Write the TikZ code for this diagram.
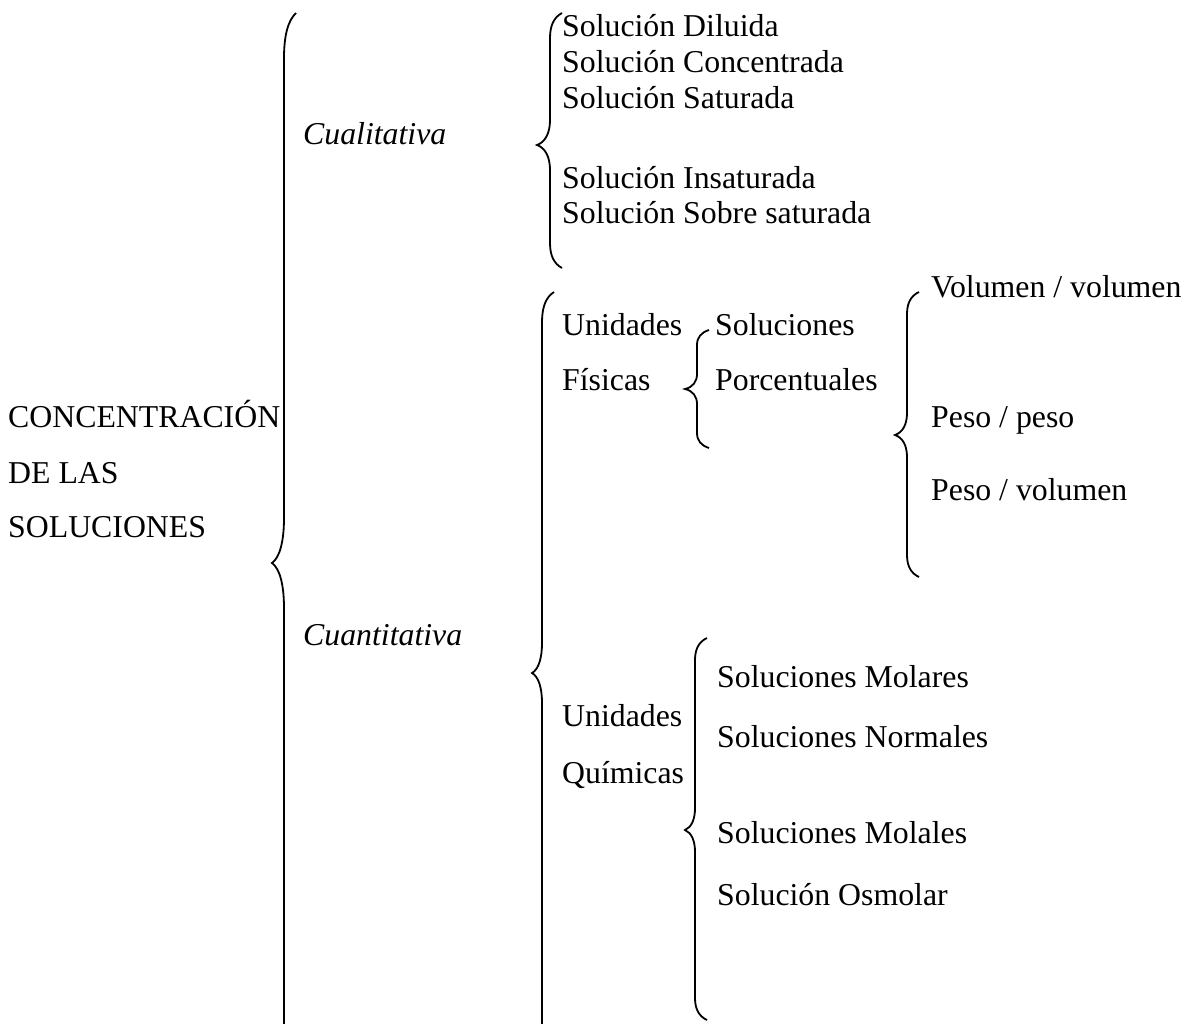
\documentclass[tikz,border=0pt]{standalone}
\usepackage{fontspec}
\setmainfont{Liberation Serif}
% #1 x of line, #2 top y, #3 tip y, #4 bottom y, #5 tip depth, #6 end curve length, #7 tip curve length
\newcommand{\WBrace}[7]{%
  \draw[wbrace] (#1+12,#2) .. controls (#1+4,#2+#6/6) and (#1,#2+#6/2) .. (#1,#2+#6)
    -- (#1,#3-#7) .. controls (#1,#3-#7/2) and (#1-#5/3,#3-#7/8) .. (#1-#5,#3)
    .. controls (#1-#5/3,#3+#7/8) and (#1,#3+#7/2) .. (#1,#3+#7)
    -- (#1,#4-#6) .. controls (#1,#4-#6/2) and (#1+4,#4-#6/6) .. (#1+12,#4);}
\begin{document}
\begin{tikzpicture}[x=1pt,y=-1pt,
  wbrace/.style={line width=1.8pt,black},
  txt/.style={anchor=base west,inner sep=0pt,font=\fontsize{31.8}{36}\selectfont},
  itxt/.style={txt,font=\fontsize{31.8}{36}\selectfont\itshape}]
\clip (0,0) rectangle (1197,1023);
\fill[white] (0,0) rectangle (1197,1023);
% root
\node[txt] (c1) at (8,427) {CONCENTRACIÓN};
\node[txt] (c2) at (8,483) {DE LAS};
\node[txt] (c3) at (8,537) {SOLUCIONES};
\WBrace{284}{13}{563}{1100}{12}{45}{45}
% level 1
\node[itxt] (cual) at (303,144) {Cualitativa};
\node[itxt] (cuan) at (303,645) {Cuantitativa};
% cualitativa
\WBrace{550}{13}{145}{268}{13}{25}{25}
\node[txt] (q1) at (562,36) {Solución Diluida};
\node[txt] (q2) at (562,72) {Solución Concentrada};
\node[txt] (q3) at (562,108) {Solución Saturada};
\node[txt] (q4) at (562,188) {Solución Insaturada};
\node[txt] (q5) at (562,223) {Solución Sobre saturada};
% cuantitativa
\WBrace{542}{292}{673}{1100}{10}{30}{30}
\node[txt] (uf1) at (562,335) {Unidades};
\node[txt] (uf2) at (562,390) {Físicas};
\WBrace{697}{330}{389}{448}{12}{15}{15}
\node[txt] (sp1) at (715,335) {Soluciones};
\node[txt] (sp2) at (715,390) {Porcentuales};
\WBrace{907}{292}{435}{577}{12}{22}{22}
\node[txt] (p1) at (931,297) {Volumen / volumen};
\node[txt] (p2) at (931,427) {Peso / peso};
\node[txt] (p3) at (931,500) {Peso / volumen};
\node[txt] (uq1) at (562,726) {Unidades};
\node[txt] (uq2) at (562,783) {Químicas};
\WBrace{695}{638}{830}{1020}{10}{22}{22}
\node[txt] (m1) at (717,687) {Soluciones Molares};
\node[txt] (m2) at (717,747) {Soluciones Normales};
\node[txt] (m3) at (717,843) {Soluciones Molales};
\node[txt] (m4) at (717,905) {Solución Osmolar};
\end{tikzpicture}
\end{document}
